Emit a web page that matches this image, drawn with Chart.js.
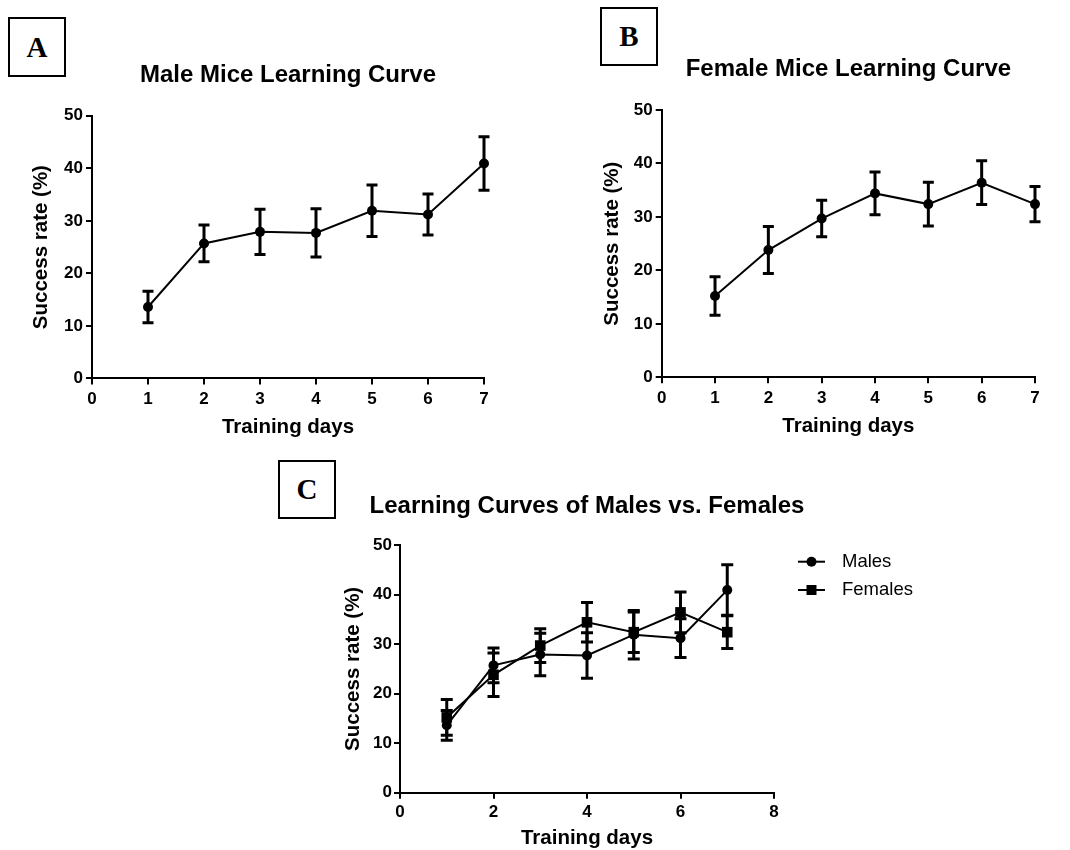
<!DOCTYPE html>
<html>
<head>
<meta charset="utf-8">
<script src="https://cdn.jsdelivr.net/npm/chart.js@4"></script>
<style>
  html, body { margin: 0; padding: 0; background: #fff; width: 1070px; height: 850px; overflow: hidden; }
  canvas { position: absolute; left: 0; top: 0; }
  .tag {
    position: absolute; box-sizing: border-box; border: 2px solid #000;
    font: bold 29px 'Liberation Serif', 'Times New Roman', serif; color: #000;
    display: flex; align-items: center; justify-content: center;
  }
</style>
</head>
<body>
<div class="tag" style="left:8px;top:17px;width:58px;height:60px;">A</div>
<div class="tag" style="left:600px;top:7px;width:58px;height:59px;">B</div>
<div class="tag" style="left:278px;top:460px;width:58px;height:59px;">C</div>
<canvas id="chartA" width="1070" height="850"></canvas>
<canvas id="chartB" width="1070" height="850"></canvas>
<canvas id="chartC" width="1070" height="850"></canvas>
<script>
// Training days and group means with error (SEM) for each day
const days = [1, 2, 3, 4, 5, 6, 7];
const maleMean = [13.6, 25.7, 27.9, 27.7, 31.9, 31.2, 40.9];
const maleErr = [3.0, 3.5, 4.3, 4.6, 4.9, 3.9, 5.1];
const femaleMean = [15.2, 23.8, 29.7, 34.4, 32.4, 36.4, 32.4];
const femaleErr = [3.6, 4.4, 3.4, 4.0, 4.1, 4.1, 3.3];

const yTicksAB = [0, 10, 20, 30, 40, 50];
const xTicksAB = [0, 1, 2, 3, 4, 5, 6, 7];
const xTicksC = [0, 2, 4, 6, 8];

const titleA = 'Male Mice Learning Curve';
const titleB = 'Female Mice Learning Curve';
const titleC = 'Learning Curves of Males vs. Females';
const xTitle = 'Training days';
const yTitle = 'Success rate (%)';
const seriesNames = ['Males', 'Females'];

const FONT = "'Liberation Sans', Arial, Helvetica, sans-serif";
Chart.defaults.color = '#000';
Chart.defaults.font.family = FONT;

const points = (ys) => days.map((d, i) => ({ x: d, y: ys[i] }));

// Vertical error bars with caps, positioned through the chart's scales
const errorBars = {
  id: 'errorBars',
  afterDatasetsDraw(chart, args, opts) {
    const { ctx, scales: { x, y } } = chart;
    const cap = opts.cap || 5.5;
    chart.data.datasets.forEach((ds, i) => {
      if (!ds.errors || !chart.isDatasetVisible(i)) return;
      ctx.save();
      ctx.strokeStyle = '#000';
      ctx.lineWidth = opts.width || 3;
      ds.data.forEach((p, j) => {
        const e = ds.errors[j];
        const px = x.getPixelForValue(p.x);
        const top = y.getPixelForValue(p.y + e);
        const bot = y.getPixelForValue(p.y - e);
        ctx.beginPath();
        ctx.moveTo(px, top); ctx.lineTo(px, bot);
        ctx.moveTo(px - cap, top); ctx.lineTo(px + cap, top);
        ctx.moveTo(px - cap, bot); ctx.lineTo(px + cap, bot);
        ctx.stroke();
      });
      ctx.restore();
    });
  }
};

// Legend drawn to the right of the plot: line sample, marker, label
const sideLegend = {
  id: 'sideLegend',
  afterDraw(chart, args, opts) {
    if (!opts.display) return;
    const { ctx } = chart;
    ctx.save();
    chart.data.datasets.forEach((ds, i) => {
      const y = opts.y + i * opts.gap;
      ctx.strokeStyle = '#000';
      ctx.lineWidth = 2;
      ctx.beginPath();
      ctx.moveTo(opts.x, y); ctx.lineTo(opts.x + opts.lineLen, y);
      ctx.stroke();
      const cx = opts.x + opts.lineLen / 2;
      ctx.fillStyle = '#000';
      ctx.beginPath();
      if (ds.pointStyle === 'rect') {
        ctx.rect(cx - 5, y - 5, 10, 10);
      } else {
        ctx.arc(cx, y, 5, 0, Math.PI * 2);
      }
      ctx.fill();
      ctx.font = '18.5px ' + FONT;
      ctx.textBaseline = 'middle';
      ctx.textAlign = 'left';
      ctx.fillText(ds.label, opts.x + opts.lineLen + opts.textGap, y);
    });
    ctx.restore();
  }
};

function lineDataset(label, ys, errs, style, radius) {
  return {
    label,
    data: points(ys),
    errors: errs,
    borderColor: '#000',
    backgroundColor: '#000',
    borderWidth: 2,
    tension: 0,
    pointStyle: style,
    pointRadius: radius,
    pointBorderWidth: 0,
    pointBackgroundColor: '#000',
    clip: false
  };
}

function build(id, o) {
  const scales = {
    x: {
      type: 'linear',
      min: o.xTicks[0],
      max: o.xTicks[o.xTicks.length - 1],
      afterBuildTicks: (s) => { s.ticks = o.xTicks.map(v => ({ value: v })); },
      afterFit: (s) => { s.height = o.xHeight; },
      border: { display: true, color: '#000', width: 2 },
      grid: { drawOnChartArea: false, drawTicks: true, tickLength: 6, color: '#000', lineWidth: 2 },
      ticks: { padding: o.xTickPad, color: '#000', font: { size: 17, weight: 'bold', family: FONT } },
      title: {
        display: true, text: xTitle, color: '#000',
        font: { size: 20.5, weight: 'bold', family: FONT, lineHeight: 1.2 },
        padding: { top: 0, bottom: o.xTitlePad }
      }
    },
    y: {
      type: 'linear',
      min: 0,
      max: 50,
      afterBuildTicks: (s) => { s.ticks = yTicksAB.map(v => ({ value: v })); },
      afterFit: (s) => { s.width = 80; },
      border: { display: true, color: '#000', width: 2 },
      grid: { drawOnChartArea: false, drawTicks: true, tickLength: 6, color: '#000', lineWidth: 2 },
      ticks: { padding: o.yTickPad, color: '#000', font: { size: 17, weight: 'bold', family: FONT } },
      title: {
        display: true, text: yTitle, color: '#000',
        font: { size: 20.5, weight: 'bold', family: FONT, lineHeight: 1.2 },
        padding: { top: o.yTitlePad, bottom: 0 }
      }
    }
  };
  if (o.rightGutter) {
    // empty right-hand band that keeps room for the legend beside the plot
    scales.gutter = {
      type: 'linear', position: 'right', display: true, min: 0, max: 1,
      grid: { display: false, drawTicks: false },
      border: { display: false },
      ticks: { display: false },
      title: { display: false },
      afterFit: (s) => { s.width = o.rightGutter; }
    };
  }
  return new Chart(document.getElementById(id), {
    type: 'line',
    data: { datasets: o.datasets },
    options: {
      responsive: false,
      animation: false,
      events: [],
      layout: { padding: o.padding },
      plugins: {
        legend: { display: false },
        tooltip: { enabled: false },
        title: {
          display: true,
          text: o.title,
          fullSize: !!o.titleFull,
          color: '#000',
          font: { size: 24, weight: 'bold', family: FONT, lineHeight: 1.2 },
          padding: { top: 0, bottom: o.titleGap }
        },
        errorBars: { cap: o.cap, width: 3 },
        sideLegend: o.legend || { display: false }
      },
      scales
    },
    plugins: [errorBars, sideLegend]
  });
}

// A: males
build('chartA', {
  datasets: [lineDataset(seriesNames[0], maleMean, maleErr, 'circle', 5)],
  title: titleA,
  padding: { left: 12, right: 586, top: 60.6, bottom: 401.5 },
  titleGap: 26.3,
  xTicks: xTicksAB,
  xHeight: 70, xTickPad: 5, xTitlePad: 8.7,
  yTickPad: 3, yTitlePad: 17.5,
  cap: 5.5
});

// B: females
build('chartB', {
  datasets: [lineDataset(seriesNames[1], femaleMean, femaleErr, 'circle', 5)],
  title: titleB,
  padding: { left: 581.7, right: 35, top: 54.6, bottom: 402.7 },
  titleGap: 26.6,
  xTicks: xTicksAB,
  xHeight: 70, xTickPad: 5, xTitlePad: 9,
  yTickPad: 3, yTitlePad: 18.5,
  cap: 5.5
});

// C: both groups together
build('chartC', {
  datasets: [
    lineDataset(seriesNames[0], maleMean, maleErr, 'circle', 5),
    lineDataset(seriesNames[1], femaleMean, femaleErr, 'rect', 7.5)
  ],
  title: titleC,
  titleFull: true,
  rightGutter: 80,
  padding: { left: 320, right: 216, top: 492.3, bottom: 2.3 },
  titleGap: 23.9,
  xTicks: xTicksC,
  xHeight: 55, xTickPad: 3, xTitlePad: -3.1,
  yTickPad: 2, yTitlePad: 20.7,
  cap: 6,
  legend: { display: true, x: 798, y: 561.7, gap: 28.3, lineLen: 27, textGap: 17 }
});
</script>
</body>
</html>
